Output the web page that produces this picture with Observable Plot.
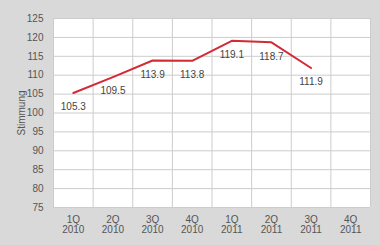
<!DOCTYPE html>
<html>
<head>
<meta charset="utf-8">
<script src="https://cdn.jsdelivr.net/npm/d3@7"></script>
<script src="https://cdn.jsdelivr.net/npm/@observablehq/plot@0.6"></script>
<style>
  html, body { margin: 0; padding: 0; background: #d9d9d9; }
  #chart { width: 380px; height: 245px; }
</style>
</head>
<body>
<div id="chart"></div>
<script>
const quarters = ["1Q", "2Q", "3Q", "4Q", "1Q", "2Q", "3Q", "4Q"];
const years = ["2010", "2010", "2010", "2010", "2011", "2011", "2011", "2011"];
const values = [105.3, 109.5, 113.9, 113.8, 119.1, 118.7, 111.9];
const yTicks = [75, 80, 85, 90, 95, 100, 105, 110, 115, 120, 125];

const data = values.map((v, i) => ({i: i + 0.5, v}));
const xTicks = quarters.map((q, i) => i + 0.5);
const xGrid = d3.range(quarters.length + 1);

const chart = Plot.plot({
  width: 380,
  height: 245,
  marginLeft: 53,
  marginRight: 10,
  marginTop: 18,
  marginBottom: 38,
  style: {background: "transparent", fontFamily: "Liberation Sans, Arial, sans-serif", fontSize: "10px", color: "#555"},
  x: {domain: [0, quarters.length], axis: null},
  y: {domain: [75, 125], axis: null},
  marks: [
    Plot.frame({fill: "white", stroke: null}),
    Plot.ruleY(yTicks, {stroke: "#cccccc", strokeWidth: 1}),
    Plot.ruleX(xGrid, {stroke: "#cccccc", strokeWidth: 1}),
    Plot.axisY({ticks: yTicks, tickSize: 0, tickPadding: 10, fill: "#555", fontSize: 10,
      label: "Stimmung", labelAnchor: "center", labelArrow: "none", labelOffset: 36}),
    Plot.axisX({ticks: xTicks, tickSize: 0, tickPadding: 8, fill: "#555", fontSize: 10, lineHeight: 1.05,
      tickFormat: (d) => { const k = Math.floor(d); return quarters[k] + "\n" + years[k]; },
      label: null}),
    Plot.line(data, {x: "i", y: "v", stroke: "#d22b35", strokeWidth: 2}),
    Plot.text(data, {x: "i", y: "v", text: (d) => d.v.toFixed(1), dy: 14, fill: "#444", fontSize: 10})
  ]
});
document.getElementById("chart").appendChild(chart);
</script>
</body>
</html>
